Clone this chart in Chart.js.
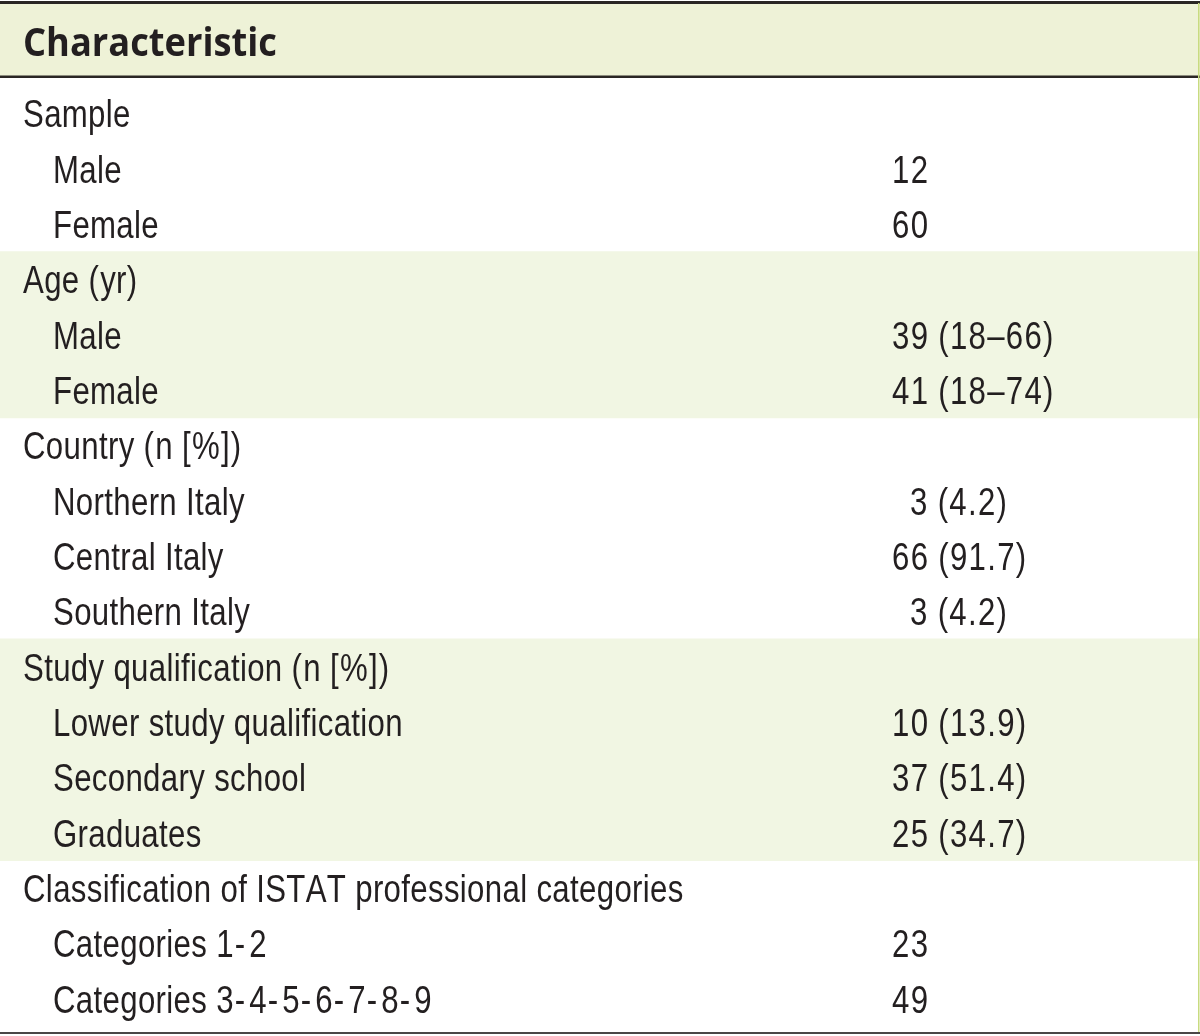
<!DOCTYPE html>
<html><head><meta charset="utf-8">
<script src="https://cdn.jsdelivr.net/npm/chart.js@4/dist/chart.umd.min.js"></script>
<style>html,body{margin:0;padding:0;background:#fff}#wrap{width:1200px;height:1036px;position:relative}</style>
</head><body><div id="wrap"><canvas id="c"></canvas></div>
<script>
// ---- data ----
const headerTitle = 'Characteristic';
const rowLabels = ['Sample','Male','Female','Age (yr)','Male','Female','Country (n [%])','Northern Italy','Central Italy','Southern Italy','Study qualification (n [%])','Lower study qualification','Secondary school','Graduates','Classification of ISTAT professional categories','Categories 1-2','Categories 3-4-5-6-7-8-9'];
const rowLevels = [0,1,1,0,1,1,0,1,1,1,0,1,1,1,0,1,1];
const rowValues = ['','12','60','','39 (18\u201366)','41 (18\u201374)','','  3 (4.2)','66 (91.7)','  3 (4.2)','','10 (13.9)','37 (51.4)','25 (34.7)','','23','49'];
const shadedRows = [false,false,false,true,true,true,false,false,false,false,true,true,true,true,false,false,false];

// ---- style ----
const TEXT = '#231f20', BAND = '#f1f6e3', HEAD_BG = '#eef2d7', RULE = '#2a2624', EDGE = '#c8db80';
const HEAD_TOP = 3, HEAD_BOTTOM = 77, BOTTOM_RULE = 1033;
const LABEL_X = 23, INDENT = 30, VALUE_FRAC = 892/1200;

function bodyFont(ctx){
  ctx.font='38px "Liberation Sans Narrow", monospace'; const a=ctx.measureText('Categories abc').width;
  ctx.font='38px monospace'; const b=ctx.measureText('Categories abc').width;
  return a!==b ? {font:'38px "Liberation Sans Narrow"', sx:1} : {font:'38px "Liberation Sans", Arial, sans-serif', sx:0.82};
}

function extraFor(ch){
  if (ch === '-') return 4;
  if (/[0-9\u2013().\[\]%]/.test(ch)) return 1.3;
  return 0.35;
}
function drawSpaced(ctx, text, x, y, sx){
  let cx = x;
  for (const ch of text){
    ctx.save(); ctx.translate(cx, y); ctx.scale(sx,1); ctx.fillText(ch,0,0); ctx.restore();
    cx += ctx.measureText(ch).width*sx + extraFor(ch);
  }
}

const tablePlugin = {
  id:'tableText',
  afterDraw(chart){
    const ctx = chart.ctx, x = chart.scales.x, y = chart.scales.y;
    const L = x.getPixelForValue(0), R = x.getPixelForValue(1);
    ctx.save();
    // header band
    ctx.fillStyle = HEAD_BG; ctx.fillRect(L, HEAD_TOP, R-L, HEAD_BOTTOM-HEAD_TOP);
    ctx.fillStyle = RULE;
    ctx.fillRect(L, 1, R-L, 3);
    ctx.fillRect(L, HEAD_BOTTOM-1.5, R-L, 2.5);
    ctx.fillStyle = '#4a4646';
    ctx.fillRect(L, BOTTOM_RULE-1, R-L, 2);
    ctx.fillStyle = EDGE;
    ctx.fillRect(R-2, HEAD_TOP, 1.5, BOTTOM_RULE-HEAD_TOP-1);
    // header text
    ctx.fillStyle = TEXT;
    ctx.font = 'bold 40px "Open Sans", "Noto Sans", sans-serif';
    ctx.textBaseline = 'alphabetic';
    ctx.fillText(headerTitle, L+LABEL_X, 56, 254);
    // body text
    const bf = bodyFont(ctx);
    ctx.font = bf.font;
    const vx = x.getPixelForValue(VALUE_FRAC);
    rowLabels.forEach((lab, i) => {
      const cy = y.getPixelForValue(i) + 14;
      const lx = L + LABEL_X + rowLevels[i]*INDENT;
      drawSpaced(ctx, lab, lx, cy, bf.sx);
      if (rowValues[i]) drawSpaced(ctx, rowValues[i], vx, cy, bf.sx);
    });
    ctx.restore();
  }
};

new Chart(document.getElementById('c'), {
  type:'bar',
  data:{ labels: rowLabels, datasets:[{ data: shadedRows.map(s => s ? [0,1] : null), backgroundColor: BAND, borderWidth:0, barPercentage:1, categoryPercentage:1, inflateAmount:0.5 }] },
  options:{
    indexAxis:'y', responsive:true, maintainAspectRatio:false, animation:false, devicePixelRatio:1,
    layout:{ padding:{ top:85.7, bottom:9.6, left:0, right:0 } },
    scales:{ x:{ type:'linear', min:0, max:1, display:false }, y:{ type:'category', display:false, offset:true } },
    plugins:{ legend:{display:false}, tooltip:{enabled:false} }
  },
  plugins:[tablePlugin]
});
</script>
</body></html>
